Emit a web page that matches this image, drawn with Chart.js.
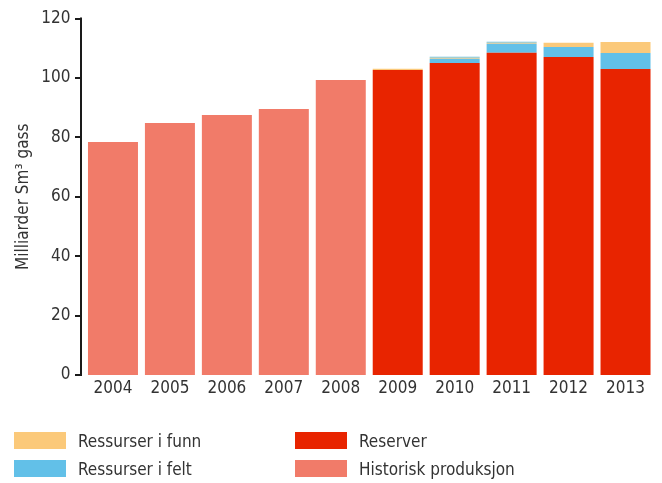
<!DOCTYPE html>
<html>
<head>
<meta charset="utf-8">
<script src="https://cdn.jsdelivr.net/npm/chart.js@4"></script>
<style>
  html, body { margin: 0; padding: 0; background: #fff; }
  #wrap { position: relative; width: 662px; height: 483px; }
  canvas { position: absolute; left: 0; top: 0; }
  .lg { position: absolute; font-family: "Liberation Sans Narrow", "DejaVu Sans Condensed", sans-serif; font-size: 17px; color: #333; line-height: 17px; white-space: nowrap; }
  .sw { position: absolute; width: 52px; height: 17px; }
</style>
</head>
<body>
<div id="wrap">
  <canvas id="c" width="662" height="483"></canvas>
  <div id="legend"></div>
</div>
<script>
const years = ['2004','2005','2006','2007','2008','2009','2010','2011','2012','2013'];
const historisk = [78.4, 84.8, 87.5, 89.5, 99.3, null, null, null, null, null];
const reserver  = [null, null, null, null, null, 102.7, 105.0, 108.5, 107.0, 103.0];
const felt      = [null, null, null, null, null, 0, 1.45, 3.0, 3.37, 5.4];
const funn      = [null, null, null, null, null, 0.35, 0.35, 0.35, 1.45, 3.7];
const feltTop   = [null, null, null, null, null, 0, 0.35, 0.35, 0, 0];
const yTicks = [0, 20, 40, 60, 80, 100, 120];
const yTitle = 'Milliarder Sm³ gass';

const FONT = '"Liberation Sans Narrow", "DejaVu Sans Condensed", sans-serif';
const FS = 17;
const TXT = '#333333';
const C_FUNN = '#FBC97A', C_FELT = '#62C0E8', C_RES = '#E82400', C_HIST = '#F17B69';

const axisLine = {
  id: 'axisLine',
  afterDraw(chart) {
    const ctx = chart.ctx, y = chart.scales.y, a = chart.chartArea;
    const x = a.left - 3.5;
    ctx.save();
    ctx.strokeStyle = '#1a1a1a';
    ctx.lineWidth = 2;
    ctx.beginPath();
    ctx.moveTo(x, y.getPixelForValue(yTicks[yTicks.length - 1]) - 1);
    ctx.lineTo(x, y.getPixelForValue(yTicks[0]) + 1);
    yTicks.forEach(v => {
      const py = Math.round(y.getPixelForValue(v));
      ctx.moveTo(x - 6, py);
      ctx.lineTo(x, py);
    });
    ctx.stroke();
    ctx.restore();
  }
};

const common = { stack: 's', barPercentage: 0.878, categoryPercentage: 1, borderWidth: 0 };
new Chart(document.getElementById('c'), {
  type: 'bar',
  data: {
    labels: years,
    datasets: [
      Object.assign({ label: 'Historisk produksjon', data: historisk, backgroundColor: C_HIST }, common),
      Object.assign({ label: 'Reserver', data: reserver, backgroundColor: C_RES }, common),
      Object.assign({ label: 'Ressurser i felt', data: felt, backgroundColor: C_FELT }, common),
      Object.assign({ label: 'Ressurser i funn', data: funn, backgroundColor: C_FUNN }, common),
      Object.assign({ label: 'Ressurser i felt ', data: feltTop, backgroundColor: C_FELT }, common)
    ]
  },
  options: {
    responsive: false,
    animation: false,
    layout: { padding: { left: 0, right: 8, top: 18.5, bottom: 78 } },
    plugins: { legend: { display: false }, tooltip: { enabled: false } },
    scales: {
      x: {
        stacked: true,
        grid: { display: false, drawTicks: false },
        border: { display: false },
        ticks: { color: TXT, font: { family: FONT, size: FS }, padding: 3, maxRotation: 0 },
        afterFit(s) { s.height = 30; s.paddingLeft = 0; s.paddingRight = 0; }
      },
      y: {
        stacked: true,
        min: 0, max: 120,
        afterBuildTicks(s) { s.ticks = yTicks.map(v => ({ value: v })); },
        grid: { display: false, drawTicks: false },
        border: { display: false },
        ticks: { color: TXT, font: { family: FONT, size: FS }, padding: 14 },
        title: { display: true, text: yTitle, color: TXT, font: { family: FONT, size: FS }, padding: { top: 13, bottom: 0 } },
        afterFit(s) { s.width = 84.5; s.paddingTop = 0; s.paddingBottom = 0; }
      }
    }
  },
  plugins: [axisLine]
});

const legendItems = [
  { label: 'Ressurser i funn', color: C_FUNN, x: 14, y: 432 },
  { label: 'Ressurser i felt', color: C_FELT, x: 14, y: 460 },
  { label: 'Reserver', color: C_RES, x: 295, y: 432 },
  { label: 'Historisk produksjon', color: C_HIST, x: 295, y: 460 }
];
const lg = document.getElementById('legend');
legendItems.forEach(it => {
  const sw = document.createElement('div');
  sw.className = 'sw';
  sw.style.left = it.x + 'px'; sw.style.top = it.y + 'px'; sw.style.background = it.color;
  const t = document.createElement('div');
  t.className = 'lg';
  t.style.left = (it.x + 64) + 'px'; t.style.top = (it.y + 1) + 'px';
  t.textContent = it.label;
  lg.appendChild(sw); lg.appendChild(t);
});
</script>
</body>
</html>
